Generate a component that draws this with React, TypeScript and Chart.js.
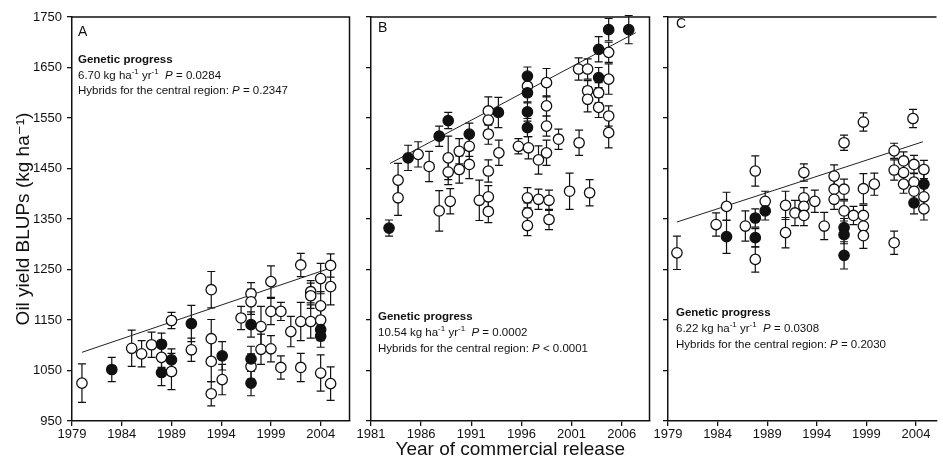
import React, { useEffect, useRef } from "react";
import { Chart, registerables } from "chart.js";

Chart.register(...registerables);

const FONT = '"Liberation Sans", Arial, "DejaVu Sans", sans-serif';

// ---------- axes ----------
const yTicks = [950, 1050, 1150, 1250, 1350, 1450, 1550, 1650, 1750];
const xTicksA = [1979, 1984, 1989, 1994, 1999, 2004];
const xTicksB = [1981, 1986, 1991, 1996, 2001, 2006];
const xTicksC = [1979, 1984, 1989, 1994, 1999, 2004];

// ---------- Panel A ----------
const aOpenYear = [1980, 1985, 1986, 1987, 1988, 1989, 1989, 1991, 1993, 1993, 1993, 1993, 1994.1, 1996, 1997, 1997, 1997, 1998, 1998, 1999, 1999, 1999, 2000, 2000, 2001, 2002, 2002, 2002, 2003, 2003, 2003, 2004, 2004, 2004, 2004, 2005, 2005, 2005];
const aOpenYield = [1025, 1094, 1083, 1101, 1076, 1149, 1048, 1091, 1210, 1113, 1068, 1004, 1032, 1154, 1202, 1186, 1058, 1137, 1092, 1226, 1167, 1093, 1167, 1056, 1127, 1259, 1147, 1056, 1206, 1198, 1147, 1232, 1178, 1150, 1045, 1258, 1216, 1024];
const aOpenErr = [38, 36, 26, 25, 20, 16, 36, 23, 36, 38, 40, 24, 30, 23, 22, 25, 25, 40, 30, 31, 26, 26, 18, 23, 30, 23, 38, 28, 22, 25, 33, 30, 28, 25, 36, 23, 36, 33];
const aFillYear = [1983, 1988, 1988, 1989, 1991, 1994.1, 1997, 1997, 1997, 2004, 2004];
const aFillYield = [1052, 1102, 1046, 1071, 1143, 1079, 1141, 1073, 1025, 1131, 1118];
const aFillErr = [24, 22, 26, 22, 36, 28, 25, 25, 25, 22, 22];
const regAYear = [1980, 2005];
const regAYield = [1086, 1253];

// ---------- Panel B ----------
const bOpenYear = [1983.7, 1983.7, 1985.7, 1986.8, 1987.8, 1988.7, 1988.7, 1988.9, 1989.8, 1989.8, 1990.8, 1990.8, 1991.8, 1992.7, 1992.7, 1992.7, 1992.7, 1992.7, 1992.7, 1993.75, 1995.7, 1996.6, 1996.7, 1996.6, 1996.6, 1996.6, 1997.7, 1997.7, 1998.5, 1998.5, 1998.5, 1998.5, 1998.75, 1998.75, 1999.7, 2000.8, 2001.7, 2001.75, 2002.6, 2002.6, 2002.6, 2002.8, 2003.7, 2003.7, 2004.7, 2004.7, 2004.7, 2004.7];
const bOpenYield = [1427, 1392, 1478, 1454, 1366, 1471, 1443, 1385, 1484, 1448, 1494, 1458, 1387, 1564, 1546, 1518, 1445, 1394, 1365, 1481, 1494, 1613, 1491, 1392, 1362, 1337, 1467, 1389, 1620, 1574, 1534, 1481, 1387, 1349, 1508, 1405, 1647, 1501, 1647, 1604, 1587, 1402, 1600, 1571, 1680, 1627, 1554, 1521];
const bOpenErr = [33, 35, 25, 30, 40, 43, 25, 25, 25, 27, 20, 28, 40, 28, 20, 20, 22, 22, 22, 25, 15, 20, 22, 20, 20, 20, 28, 20, 28, 20, 20, 25, 20, 20, 20, 36, 22, 25, 20, 20, 25, 26, 20, 20, 20, 30, 20, 30];
const bFillYear = [1982.8, 1984.7, 1987.8, 1988.7, 1990.8, 1993.7, 1996.6, 1996.6, 1996.6, 1996.6, 2003.7, 2003.7, 2004.7, 2006.7];
const bFillYield = [1332, 1471, 1514, 1545, 1518, 1561, 1633, 1600, 1562, 1531, 1686, 1630, 1725, 1725];
const bFillErr = [16, 25, 20, 16, 22, 30, 18, 18, 18, 18, 25, 20, 22, 28];
const regBYear = [1982.9, 2007.4];
const regBYield = [1460, 1719];

// ---------- Panel C ----------
const cOpenYear = [1979.9, 1983.85, 1984.9, 1986.8, 1987.8, 1987.8, 1988.8, 1990.85, 1990.85, 1991.8, 1992.7, 1992.7, 1992.7, 1992.7, 1993.8, 1994.75, 1995.75, 1995.75, 1995.75, 1996.75, 1996.75, 1996.75, 1997.7, 1998.7, 1998.7, 1998.7, 1998.7, 1998.7, 1999.8, 2001.8, 2001.8, 2001.8, 2002.75, 2002.75, 2002.75, 2003.7, 2003.8, 2003.8, 2003.8, 2004.8, 2004.8, 2004.8];
const cOpenYield = [1283, 1339, 1375, 1336, 1445, 1270, 1385, 1377, 1323, 1362, 1442, 1392, 1375, 1357, 1385, 1336, 1435, 1409, 1389, 1501, 1409, 1366, 1357, 1542, 1410, 1357, 1336, 1317, 1419, 1485, 1447, 1303, 1465, 1442, 1419, 1549, 1458, 1423, 1405, 1448, 1394, 1370];
const cOpenErr = [33, 23, 28, 30, 30, 25, 20, 28, 30, 25, 17, 20, 20, 20, 22, 27, 22, 20, 20, 15, 20, 20, 18, 18, 30, 20, 20, 25, 22, 15, 20, 23, 18, 18, 18, 18, 18, 18, 18, 18, 18, 22];
const cFillYear = [1984.9, 1987.8, 1987.8, 1988.8, 1996.75, 1996.75, 1996.75, 2003.8, 2004.8];
const cFillYield = [1315, 1352, 1313, 1366, 1333, 1319, 1278, 1382, 1419];
const cFillErr = [33, 18, 18, 18, 18, 18, 27, 22, 22];
const regCYear = [1979.9, 2004.7];
const regCYield = [1344, 1503];

// ---------- helpers ----------
type Run = { t: string; s?: "b" | "i" | "sup" };

function drawRuns(ctx: CanvasRenderingContext2D, x: number, y: number, runs: Run[], size: number) {
  let cx = x;
  for (const r of runs) {
    let font = `${size}px ${FONT}`;
    let dy = 0;
    if (r.s === "b") font = `bold ${size}px ${FONT}`;
    if (r.s === "i") font = `italic ${size}px ${FONT}`;
    if (r.s === "sup") {
      font = `${Math.round(size * 0.68)}px ${FONT}`;
      dy = -size * 0.35;
    }
    ctx.font = font;
    ctx.fillText(r.t, cx, y + dy);
    cx += ctx.measureText(r.t).width;
  }
}

const pts = (xs: number[], ys: number[]) => xs.map((x, i) => ({ x, y: ys[i] }));

type PanelDef = {
  left: number;
  width: number;
  yWidth: number;
  padRight: number;
  xMin: number;
  xMax: number;
  xTicks: number[];
  showYLabels: boolean;
  showXTitle: boolean;
  rightBorder: boolean;
  letter: string;
  letterY: number;
  textX: number;
  textYs: number[];
  slope: string;
  pProg: string;
  pCentral: string;
  openX: number[];
  openY: number[];
  openE: number[];
  fillX: number[];
  fillY: number[];
  fillE: number[];
  regX: number[];
  regY: number[];
};

const H = 459;

const panels: PanelDef[] = [
  {
    left: 0, width: 356, yWidth: 72, padRight: 4,
    xMin: 1979, xMax: 2006.9, xTicks: xTicksA,
    showYLabels: true, showXTitle: false, rightBorder: true,
    letter: "A", letterY: 32, textX: 78, textYs: [60, 75.5, 91],
    slope: "6.70", pProg: "= 0.0284", pCentral: "= 0.2347",
    openX: aOpenYear, openY: aOpenYield, openE: aOpenErr,
    fillX: aFillYear, fillY: aFillYield, fillE: aFillErr,
    regX: regAYear, regY: regAYield,
  },
  {
    left: 350, width: 306, yWidth: 21, padRight: 4,
    xMin: 1981, xMax: 2008.77, xTicks: xTicksB,
    showYLabels: false, showXTitle: true, rightBorder: true,
    letter: "B", letterY: 28.5, textX: 378, textYs: [316.5, 332.5, 348.5],
    slope: "10.54", pProg: "= 0.0002", pCentral: "< 0.0001",
    openX: bOpenYear, openY: bOpenYield, openE: bOpenErr,
    fillX: bFillYear, fillY: bFillYield, fillE: bFillErr,
    regX: regBYear, regY: regBYield,
  },
  {
    left: 647, width: 296, yWidth: 21, padRight: 0,
    xMin: 1979, xMax: 2006.07, xTicks: xTicksC,
    showYLabels: false, showXTitle: false, rightBorder: false,
    letter: "C", letterY: 24, textX: 676, textYs: [313, 329, 345],
    slope: "6.22", pProg: "= 0.0308", pCentral: "= 0.2030",
    openX: cOpenYear, openY: cOpenYield, openE: cOpenErr,
    fillX: cFillYear, fillY: cFillYield, fillE: cFillErr,
    regX: regCYear, regY: regCYield,
  },
];

function makeConfig(p: PanelDef): any {
  const errorBars = {
    id: "errbars",
    beforeDatasetsDraw(chart: any) {
      const ctx = chart.ctx as CanvasRenderingContext2D;
      const xs = chart.scales.x;
      const ys = chart.scales.y;
      ctx.save();
      ctx.strokeStyle = "#111";
      ctx.lineWidth = 1.2;
      chart.data.datasets.forEach((ds: any) => {
        const errs: number[] | undefined = ds.errs;
        if (!errs) return;
        ds.data.forEach((d: any, i: number) => {
          const x = xs.getPixelForValue(d.x);
          const y1 = ys.getPixelForValue(d.y + errs[i]);
          const y2 = ys.getPixelForValue(d.y - errs[i]);
          ctx.beginPath();
          ctx.moveTo(x, y1);
          ctx.lineTo(x, y2);
          ctx.moveTo(x - 4, y1);
          ctx.lineTo(x + 4, y1);
          ctx.moveTo(x - 4, y2);
          ctx.lineTo(x + 4, y2);
          ctx.stroke();
        });
      });
      ctx.restore();
    },
  };

  const deco = {
    id: "deco",
    afterDraw(chart: any) {
      const ctx = chart.ctx as CanvasRenderingContext2D;
      const a = chart.chartArea;
      ctx.save();
      ctx.strokeStyle = "#111";
      ctx.lineWidth = 1.5;
      ctx.beginPath();
      ctx.moveTo(a.left, a.top);
      ctx.lineTo(a.right, a.top);
      if (p.rightBorder) ctx.lineTo(a.right, a.bottom);
      ctx.stroke();

      ctx.fillStyle = "#111";
      ctx.textBaseline = "middle";
      ctx.textAlign = "left";
      ctx.font = `14px ${FONT}`;
      const ox = p.left;
      ctx.fillText(p.letter, p.textX - ox, p.letterY);
      const fs = 11.5;
      drawRuns(ctx, p.textX - ox, p.textYs[0], [{ t: "Genetic progress", s: "b" }], fs);
      drawRuns(ctx, p.textX - ox, p.textYs[1], [
        { t: `${p.slope} kg ha` },
        { t: "-1", s: "sup" },
        { t: " yr" },
        { t: "-1", s: "sup" },
        { t: "  " },
        { t: "P", s: "i" },
        { t: ` ${p.pProg}` },
      ], fs);
      drawRuns(ctx, p.textX - ox, p.textYs[2], [
        { t: "Hybrids for the central region: " },
        { t: "P", s: "i" },
        { t: ` ${p.pCentral}` },
      ], fs);
      ctx.restore();
    },
  };

  const gridOpts = {
    display: true,
    drawOnChartArea: false,
    drawTicks: true,
    tickLength: 5,
    color: "#111",
    lineWidth: 1.3,
  };

  return {
    type: "scatter",
    data: {
      datasets: [
        {
          type: "line",
          data: pts(p.regX, p.regY),
          showLine: true,
          borderColor: "#222",
          borderWidth: 1,
          pointRadius: 0,
          fill: false,
          order: 3,
        },
        {
          data: pts(p.openX, p.openY),
          errs: p.openE,
          pointRadius: 5.2,
          pointBackgroundColor: "#fff",
          pointBorderColor: "#111",
          pointBorderWidth: 1.3,
          order: 2,
        },
        {
          data: pts(p.fillX, p.fillY),
          errs: p.fillE,
          pointRadius: 5.2,
          pointBackgroundColor: "#111",
          pointBorderColor: "#111",
          pointBorderWidth: 1.3,
          order: 1,
        },
      ],
    },
    options: {
      responsive: false,
      animation: false,
      events: [],
      layout: { padding: { top: 17, right: p.padRight, left: 0, bottom: 0 } },
      plugins: { legend: { display: false }, tooltip: { enabled: false } },
      scales: {
        x: {
          type: "linear",
          min: p.xMin,
          max: p.xMax,
          afterBuildTicks: (s: any) => {
            s.ticks = p.xTicks.map((v) => ({ value: v }));
          },
          afterFit: (s: any) => {
            s.height = 38;
          },
          grid: gridOpts,
          border: { display: true, color: "#111", width: 1.5 },
          ticks: {
            color: "#111",
            font: { family: FONT, size: 13 },
            padding: 1,
            maxRotation: 0,
            autoSkip: false,
            callback: (v: any) => String(v),
          },
          title: {
            display: p.showXTitle,
            text: "Year of commercial release",
            color: "#111",
            font: { family: FONT, size: 19, lineHeight: 1 },
            padding: { top: 0, bottom: 0 },
          },
        },
        y: {
          type: "linear",
          min: 950,
          max: 1750,
          afterBuildTicks: (s: any) => {
            s.ticks = yTicks.map((v) => ({ value: v }));
          },
          afterFit: (s: any) => {
            s.width = p.yWidth;
          },
          grid: gridOpts,
          border: { display: true, color: "#111", width: 1.5 },
          ticks: {
            display: p.showYLabels,
            color: "#111",
            font: { family: FONT, size: 13 },
            padding: 5,
            callback: (v: any) => String(v),
          },
          title: {
            display: p.showYLabels,
            text: "Oil yield BLUPs (kg ha\u207B\u00B9)",
            color: "#111",
            font: { family: FONT, size: 19 },
            padding: { top: 12, bottom: 0 },
          },
        },
      },
    },
    plugins: [errorBars, deco],
  };
}

function Panel({ def }: { def: PanelDef }) {
  const ref = useRef<HTMLCanvasElement | null>(null);
  useEffect(() => {
    if (!ref.current) return;
    const chart = new Chart(ref.current, makeConfig(def));
    return () => chart.destroy();
  }, [def]);
  return (
    <div style={{ position: "absolute", left: def.left, top: 0, width: def.width, height: H }}>
      <canvas ref={ref} width={def.width} height={H} style={{ width: def.width, height: H, display: "block" }} />
    </div>
  );
}

export default function App() {
  return (
    <div
      style={{
        position: "fixed",
        left: 0,
        top: 0,
        width: 943,
        height: 459,
        overflow: "hidden",
        background: "#fff",
      }}
    >
      {panels.map((p) => (
        <Panel key={p.letter} def={p} />
      ))}
    </div>
  );
}
